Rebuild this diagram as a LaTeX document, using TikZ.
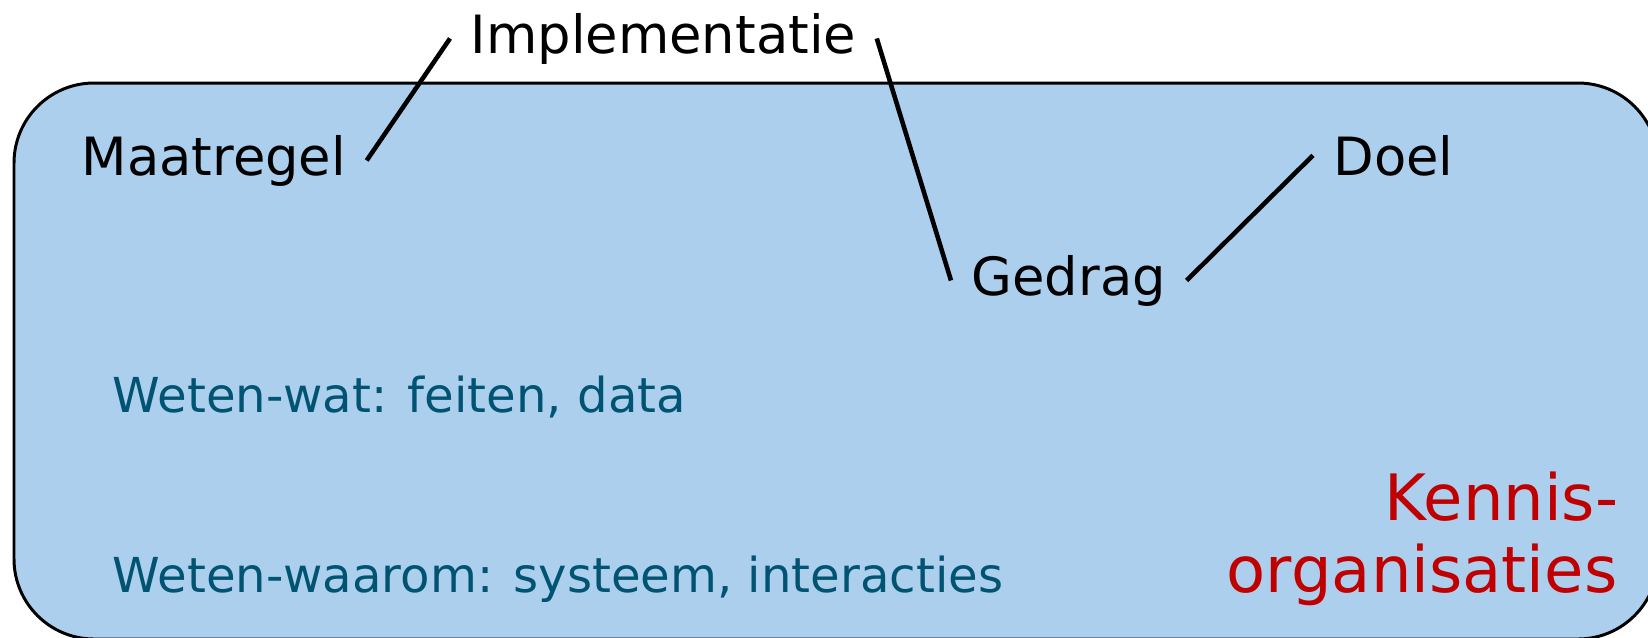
\documentclass[tikz,border=0pt]{standalone}
\usepackage{fontspec}
\setmainfont{DejaVu Sans}
\usepackage{tikz}
\usetikzlibrary{positioning}
\definecolor{boxblue}{RGB}{172,207,237}
\definecolor{wetenblue}{RGB}{0,84,114}
\definecolor{kennisred}{RGB}{192,0,0}

\begin{document}
\begin{tikzpicture}[
  term/.style={inner xsep=0.2cm, inner ysep=0pt, anchor=base west,
    font=\fontsize{15pt}{16pt}\selectfont},
  weten/.style={inner sep=0pt, anchor=base west, text=wetenblue,
    font=\fontsize{13.7pt}{15pt}\selectfont},
  kennis/.style={inner sep=0pt, anchor=base east, text=kennisred,
    font=\fontsize{18.2pt}{20pt}\selectfont},
  link/.style={black, line width=1.3pt}]
\useasboundingbox (0cm,0cm) rectangle (16.48cm,-6.37cm);
\clip (0cm,0cm) rectangle (16.48cm,-6.37cm);
\draw[black, line width=0.85pt, fill=boxblue, rounded corners=0.8cm] (0.14cm,-0.83cm) rectangle (16.58cm,-6.39cm);
\node[term] (implementatie) at (4.50cm,-0.53cm) {Implementatie};
\node[term] (maatregel) at (0.61cm,-1.75cm) {Maatregel};
\node[term] (gedrag) at (9.51cm,-2.95cm) {Gedrag};
\node[term] (doel) at (13.13cm,-1.75cm) {Doel};
\node[weten] (wetenwat) at (1.12cm,-4.12cm) {Weten-wat: feiten, data};
\node[weten] (wetenwaarom) at (1.12cm,-5.92cm) {Weten-waarom: systeem, interacties};
\node[kennis] (kennis) at (16.19cm,-5.20cm) {Kennis-};
\node[kennis] (organisaties) at (16.18cm,-5.92cm) {organisaties};
\draw[link] (maatregel.east) -- (implementatie.west);
\draw[link] (implementatie.east) -- (gedrag.west);
\draw[link] (gedrag.east) -- (doel.west);
\end{tikzpicture}
\end{document}
